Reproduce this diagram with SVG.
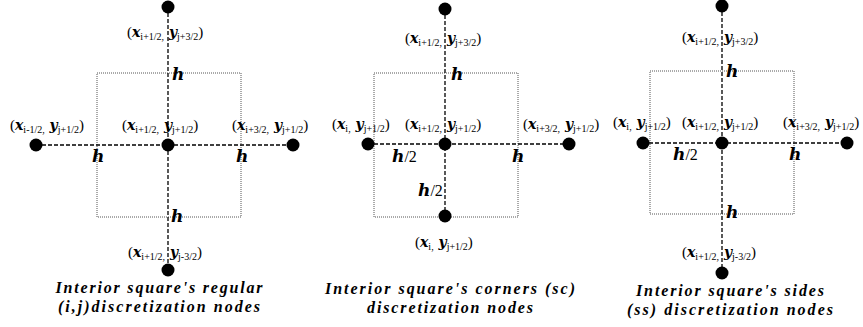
<svg xmlns="http://www.w3.org/2000/svg" width="863" height="327" viewBox="0 0 863 327">
<style>
text{font-family:"Liberation Serif","DejaVu Serif",serif;fill:#000}
.lb{font-size:15px}
.v{font-family:"DejaVu Serif",serif;font-size:14px;font-weight:bold;font-style:italic}
.s{font-size:10px}
.h{font-family:"DejaVu Serif",serif;font-size:17px;font-weight:bold;font-style:italic}
.hh{font-size:16px}
.cap{font-family:"Liberation Serif",serif;font-size:16px;font-weight:bold;font-style:italic;text-anchor:middle}
.sq{fill:none;stroke:#555;stroke-width:1;stroke-dasharray:1 1}
.dl{stroke:#000;stroke-width:1.3;stroke-dasharray:4 2;fill:none}
.nd{fill:#000}
</style>
<rect width="863" height="327" fill="#fff"/>
<g id="squares">
<rect class="sq" x="97" y="73" width="144" height="144"/>
<rect class="sq" x="374" y="73" width="144" height="144"/>
<rect class="sq" x="650" y="71" width="144" height="143"/>
</g>
<g id="connectors">
<line class="dl" x1="168" y1="7" x2="168" y2="270"/>
<line class="dl" x1="36" y1="145" x2="293" y2="145"/>
<line class="dl" x1="445" y1="9" x2="445" y2="216"/>
<line class="dl" x1="368" y1="144" x2="569" y2="144"/>
<line class="dl" x1="722" y1="6" x2="722" y2="273"/>
<line class="dl" x1="643" y1="143" x2="847" y2="143"/>
</g>
<g id="panel1">
<g id="p1-top"><circle class="nd" cx="168" cy="7" r="6.5"/>
<text class="lb" x="127" y="37">(<tspan class="v">x</tspan><tspan class="s" dy="3">i+1/2,</tspan><tspan class="v" dy="-3"> y</tspan><tspan class="s" dy="3">j+3/2</tspan><tspan dy="-3">)</tspan></text></g>
<g id="p1-left"><circle class="nd" cx="36" cy="145" r="6.5"/>
<text class="lb" x="10" y="130">(<tspan class="v">x</tspan><tspan class="s" dy="3">i-1/2,</tspan><tspan class="v" dy="-3"> y</tspan><tspan class="s" dy="3">j+1/2</tspan><tspan dy="-3">)</tspan></text></g>
<g id="p1-center"><circle class="nd" cx="168" cy="145" r="6.5"/>
<text class="lb" x="122" y="130">(<tspan class="v">x</tspan><tspan class="s" dy="3">i+1/2,</tspan><tspan class="v" dy="-3"> y</tspan><tspan class="s" dy="3">j+1/2</tspan><tspan dy="-3">)</tspan></text></g>
<g id="p1-right"><circle class="nd" cx="293" cy="145" r="6.5"/>
<text class="lb" x="232" y="130">(<tspan class="v">x</tspan><tspan class="s" dy="3">i+3/2,</tspan><tspan class="v" dy="-3"> y</tspan><tspan class="s" dy="3">j+1/2</tspan><tspan dy="-3">)</tspan></text></g>
<g id="p1-bottom"><circle class="nd" cx="168" cy="270" r="6.5"/>
<text class="lb" x="128" y="257">(<tspan class="v">x</tspan><tspan class="s" dy="3">i+1/2,</tspan><tspan class="v" dy="-3"> y</tspan><tspan class="s" dy="3">j-3/2</tspan><tspan dy="-3">)</tspan></text></g>
<text class="h" x="172" y="80">h</text>
<text class="h" x="92" y="162">h</text>
<text class="h" x="236" y="162">h</text>
<text class="h" x="171" y="222">h</text>
<text class="cap" x="159" y="293" textLength="207" lengthAdjust="spacing">Interior square's regular</text>
<text class="cap" x="159" y="312" textLength="202" lengthAdjust="spacing">(i,j)discretization nodes</text>
</g>
<g id="panel2">
<g id="p2-top"><circle class="nd" cx="445" cy="9" r="6.5"/>
<text class="lb" x="405" y="43">(<tspan class="v">x</tspan><tspan class="s" dy="3">i+1/2,</tspan><tspan class="v" dy="-3"> y</tspan><tspan class="s" dy="3">j+3/2</tspan><tspan dy="-3">)</tspan></text></g>
<g id="p2-left"><circle class="nd" cx="368" cy="144" r="6.5"/>
<text class="lb" x="332" y="129">(<tspan class="v">x</tspan><tspan class="s" dy="3">i,</tspan><tspan class="v" dy="-3"> y</tspan><tspan class="s" dy="3">j+1/2</tspan><tspan dy="-3">)</tspan></text></g>
<g id="p2-center"><circle class="nd" cx="445" cy="144" r="6.5"/>
<text class="lb" x="405" y="129">(<tspan class="v">x</tspan><tspan class="s" dy="3">i+1/2,</tspan><tspan class="v" dy="-3"> y</tspan><tspan class="s" dy="3">j+1/2</tspan><tspan dy="-3">)</tspan></text></g>
<g id="p2-right"><circle class="nd" cx="569" cy="144" r="6.5"/>
<text class="lb" x="523" y="129">(<tspan class="v">x</tspan><tspan class="s" dy="3">i+3/2,</tspan><tspan class="v" dy="-3"> y</tspan><tspan class="s" dy="3">j+1/2</tspan><tspan dy="-3">)</tspan></text></g>
<g id="p2-bottom"><circle class="nd" cx="445" cy="216" r="6.5"/>
<text class="lb" x="415" y="247">(<tspan class="v">x</tspan><tspan class="s" dy="3">i,</tspan><tspan class="v" dy="-3"> y</tspan><tspan class="s" dy="3">j+1/2</tspan><tspan dy="-3">)</tspan></text></g>
<text class="h" x="451" y="80">h</text>
<text class="hh" x="392" y="162"><tspan class="h">h</tspan>/2</text>
<text class="h" x="512" y="162">h</text>
<text class="hh" x="418" y="196"><tspan class="h">h</tspan>/2</text>
<text class="cap" x="450" y="294" textLength="250" lengthAdjust="spacing">Interior square's corners (sc)</text>
<text class="cap" x="450" y="313" textLength="166" lengthAdjust="spacing">discretization nodes</text>
</g>
<g id="panel3">
<g id="p3-top"><circle class="nd" cx="722" cy="6" r="6.5"/>
<text class="lb" x="682" y="42">(<tspan class="v">x</tspan><tspan class="s" dy="3">i+1/2,</tspan><tspan class="v" dy="-3"> y</tspan><tspan class="s" dy="3">j+3/2</tspan><tspan dy="-3">)</tspan></text></g>
<g id="p3-left"><circle class="nd" cx="643" cy="143" r="6.5"/>
<text class="lb" x="613" y="127">(<tspan class="v">x</tspan><tspan class="s" dy="3">i,</tspan><tspan class="v" dy="-3"> y</tspan><tspan class="s" dy="3">j+1/2</tspan><tspan dy="-3">)</tspan></text></g>
<g id="p3-center"><circle class="nd" cx="722" cy="143" r="6.5"/>
<text class="lb" x="682" y="127">(<tspan class="v">x</tspan><tspan class="s" dy="3">i+1/2,</tspan><tspan class="v" dy="-3"> y</tspan><tspan class="s" dy="3">j+1/2</tspan><tspan dy="-3">)</tspan></text></g>
<g id="p3-right"><circle class="nd" cx="847" cy="143" r="6.5"/>
<text class="lb" x="783" y="127">(<tspan class="v">x</tspan><tspan class="s" dy="3">i+3/2,</tspan><tspan class="v" dy="-3"> y</tspan><tspan class="s" dy="3">j+1/2</tspan><tspan dy="-3">)</tspan></text></g>
<g id="p3-bottom"><circle class="nd" cx="722" cy="273" r="6.5"/>
<text class="lb" x="682" y="257">(<tspan class="v">x</tspan><tspan class="s" dy="3">i+1/2,</tspan><tspan class="v" dy="-3"> y</tspan><tspan class="s" dy="3">j-3/2</tspan><tspan dy="-3">)</tspan></text></g>
<text class="h" x="726" y="77">h</text>
<text class="hh" x="673" y="160"><tspan class="h">h</tspan>/2</text>
<text class="h" x="789" y="160">h</text>
<text class="h" x="726" y="218">h</text>
<text class="cap" x="730" y="296" textLength="188" lengthAdjust="spacing">Interior square's sides</text>
<text class="cap" x="730" y="315" textLength="206" lengthAdjust="spacing">(ss) discretization nodes</text>
</g>
</svg>
